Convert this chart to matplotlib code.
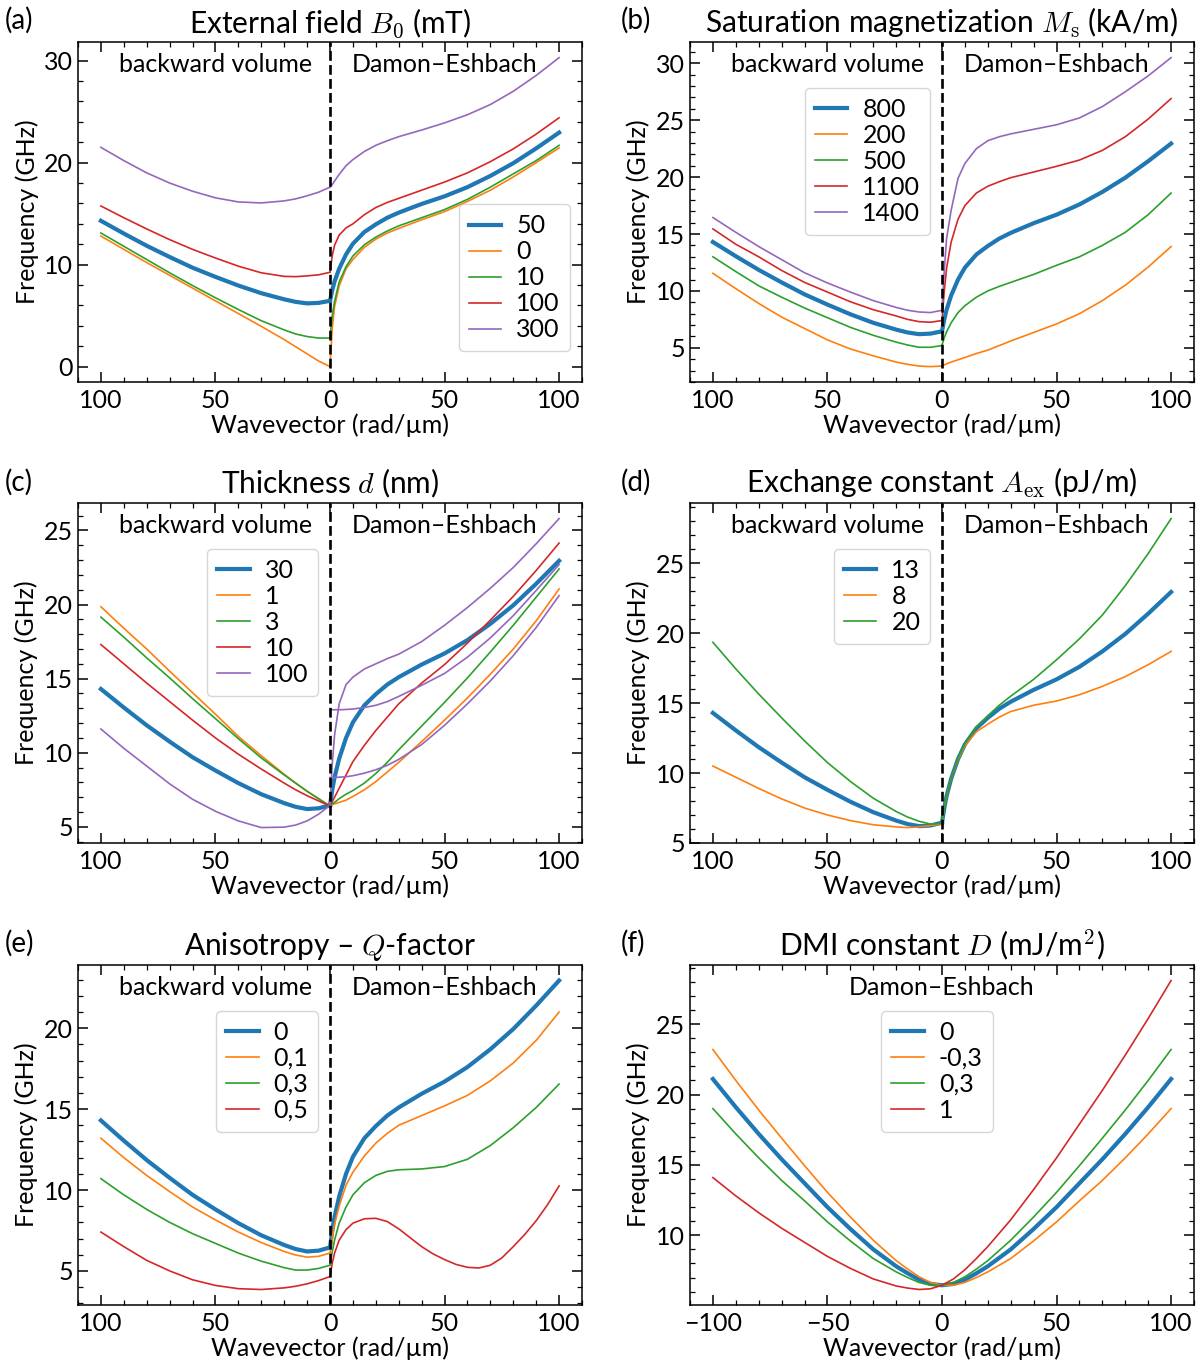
import numpy as np
import matplotlib
matplotlib.use('Agg')
import matplotlib.pyplot as plt
from matplotlib.ticker import AutoMinorLocator, FuncFormatter, MultipleLocator

plt.rcParams['font.family'] = ['Lato', 'DejaVu Sans']
plt.rcParams['mathtext.fontset'] = 'cm'
plt.rcParams['font.size'] = 18
plt.rcParams['axes.linewidth'] = 1.1
for ax_ in ('xtick', 'ytick'):
    plt.rcParams[ax_ + '.direction'] = 'in'
    plt.rcParams[ax_ + '.major.size'] = 7
    plt.rcParams[ax_ + '.minor.size'] = 3.5
    plt.rcParams[ax_ + '.major.width'] = 1.1
    plt.rcParams[ax_ + '.minor.width'] = 0.9
plt.rcParams['xtick.major.pad'] = 5
plt.rcParams['xtick.top'] = True
plt.rcParams['ytick.right'] = True

# wavevector grids (rad/um)
k_bv = [0, 5, 10, 15, 20, 30, 40, 50, 60, 70, 80, 90, 100]
k_de = [0, 1, 2, 4, 7, 10, 15, 20, 25, 30, 40, 50, 60, 70, 80, 90, 100]
k_de_fine = [0, 1, 2, 4, 7, 10, 15, 20, 25, 30, 35, 40, 45, 50, 55, 60, 65, 70, 75,
             80, 85, 90, 95, 100]
k_f = [-100, -90, -80, -70, -60, -50, -40, -30, -20, -15, -10, -5, 0,
       5, 10, 15, 20, 30, 40, 50, 60, 70, 80, 90, 100]

# reference parameter set (thick blue line)
ref_bv = [6.45, 6.25, 6.2, 6.35, 6.6, 7.2, 7.95, 8.8, 9.7, 10.75, 11.85, 13.05, 14.3]
ref_de = [6.45, 7.5, 8.35, 9.6, 11.0, 12.05, 13.2, 13.95, 14.6, 15.1, 15.95, 16.7,
          17.6, 18.7, 19.95, 21.4, 22.95]

# (a) external field B0 (mT)
a_labels = ['50', '0', '10', '100', '300']
a_bv_0 = [0.0, 0.55, 1.25, 1.95, 2.65, 3.95, 5.2, 6.45, 7.7, 8.95, 10.2, 11.5, 12.8]
a_de_0 = [0.1, 3.8, 5.9, 7.9, 9.6, 10.5, 11.7, 12.5, 13.1, 13.55, 14.4, 15.2, 16.2,
          17.3, 18.6, 20.0, 21.45]
a_bv_10 = [2.8, 2.8, 2.95, 3.2, 3.6, 4.5, 5.6, 6.75, 7.95, 9.2, 10.5, 11.8, 13.1]
a_de_10 = [2.85, 5.0, 6.4, 8.3, 9.8, 10.85, 11.95, 12.7, 13.3, 13.8, 14.6, 15.4, 16.4,
           17.6, 18.9, 20.2, 21.7]
a_bv_100 = [9.25, 9.0, 8.9, 8.82, 8.85, 9.2, 9.85, 10.65, 11.5, 12.45, 13.5, 14.6, 15.75]
a_de_100 = [9.3, 10.9, 11.9, 12.9, 13.6, 14.0, 14.9, 15.6, 16.1, 16.5, 17.3, 18.1, 19.0,
            20.1, 21.35, 22.8, 24.4]
a_bv_300 = [17.6, 17.1, 16.75, 16.45, 16.25, 16.05, 16.15, 16.55, 17.2, 18.0, 19.0, 20.2, 21.5]
a_de_300 = [17.6, 17.85, 18.2, 18.85, 19.7, 20.3, 21.1, 21.7, 22.15, 22.55, 23.2, 23.9,
            24.7, 25.7, 27.0, 28.55, 30.3]

# (b) saturation magnetization Ms (kA/m)
b_labels = ['800', '200', '500', '1100', '1400']
b_bv_200 = [3.4, 3.35, 3.4, 3.55, 3.75, 4.3, 4.9, 5.7, 6.7, 7.7, 8.9, 10.2, 11.55]
b_de_200 = [3.4, 3.5, 3.6, 3.75, 3.95, 4.15, 4.5, 4.8, 5.2, 5.6, 6.35, 7.1, 8.0, 9.15,
            10.5, 12.1, 13.9]
b_bv_500 = [5.2, 5.05, 5.05, 5.25, 5.5, 6.1, 6.8, 7.65, 8.5, 9.45, 10.45, 11.7, 13.0]
b_de_500 = [5.25, 5.9, 6.4, 7.2, 8.1, 8.7, 9.45, 10.0, 10.4, 10.75, 11.45, 12.25, 13.0,
            14.0, 15.15, 16.7, 18.6]
b_bv_1100 = [7.4, 7.25, 7.3, 7.5, 7.8, 8.35, 9.05, 9.9, 10.75, 11.8, 13.0, 14.1, 15.45]
b_de_1100 = [7.4, 10.0, 12.0, 14.3, 16.3, 17.5, 18.6, 19.2, 19.6, 19.95, 20.45, 20.95,
             21.5, 22.35, 23.55, 25.1, 26.9]
b_bv_1400 = [8.3, 8.1, 8.15, 8.3, 8.55, 9.15, 9.9, 10.7, 11.6, 12.75, 13.9, 15.15, 16.45]
b_de_1400 = [8.4, 11.8, 14.6, 17.1, 19.9, 21.2, 22.5, 23.2, 23.55, 23.8, 24.2, 24.6,
             25.2, 26.2, 27.5, 28.9, 30.5]

# (c) thickness d (nm)
c_labels = ['30', '1', '3', '10', '100']
c_bv_1 = [6.4, 6.9, 7.4, 7.95, 8.55, 9.8, 11.1, 12.6, 14.05, 15.5, 17.0, 18.4, 19.85]
c_de_1 = [6.45, 6.5, 6.55, 6.65, 6.8, 7.05, 7.5, 8.05, 8.7, 9.35, 10.75, 12.2, 13.7,
          15.3, 17.0, 18.9, 21.05]
c_bv_3 = [6.4, 6.9, 7.4, 7.95, 8.5, 9.65, 10.95, 12.3, 13.65, 15.05, 16.4, 17.8, 19.15]
c_de_3 = [6.45, 6.55, 6.65, 6.9, 7.2, 7.45, 7.95, 8.6, 9.35, 10.2, 11.8, 13.4, 15.05,
          16.8, 18.6, 20.5, 22.4]
c_bv_10 = [6.4, 6.75, 7.1, 7.5, 7.95, 8.9, 9.9, 11.0, 12.2, 13.45, 14.7, 16.0, 17.3]
c_de_10 = [6.45, 6.7, 7.0, 7.6, 8.5, 9.4, 10.5, 11.5, 12.4, 13.3, 14.7, 15.95, 17.4,
           18.95, 20.55, 22.3, 24.15]
c_bv_100 = [6.45, 5.85, 5.4, 5.12, 4.98, 4.95, 5.4, 6.05, 6.86, 7.9, 9.1, 10.3, 11.6]
c_de_100_n0 = [6.45, 9.3, 11.2, 13.3, 14.6, 15.1, 15.65, 16.0, 16.35, 16.65, 17.5, 18.6,
               19.8, 21.1, 22.5, 24.1, 25.8]
c_de_100_n1 = [12.9, 12.9, 12.9, 12.9, 12.92, 12.95, 13.05, 13.2, 13.45, 13.8, 14.55,
               15.35, 16.45, 17.75, 19.25, 20.95, 22.7]
c_de_100_n2 = [8.32, 8.32, 8.33, 8.35, 8.38, 8.45, 8.62, 8.85, 9.15, 9.55, 10.55, 11.85,
               13.3, 14.85, 16.55, 18.45, 20.6]

# (d) exchange constant Aex (pJ/m)
d_labels = ['13', '8', '20']
d_bv_8 = [6.35, 6.25, 6.15, 6.1, 6.15, 6.3, 6.6, 7.0, 7.5, 8.15, 8.9, 9.7, 10.5]
d_de_8 = [6.45, 7.5, 8.35, 9.6, 10.95, 11.95, 12.95, 13.5, 14.0, 14.4, 14.85, 15.15,
          15.6, 16.2, 16.9, 17.75, 18.7]
d_bv_20 = [6.4, 6.35, 6.55, 6.85, 7.25, 8.2, 9.4, 10.75, 12.3, 13.95, 15.65, 17.45, 19.35]
d_de_20 = [6.45, 7.5, 8.35, 9.6, 11.05, 12.1, 13.3, 14.1, 14.85, 15.5, 16.7, 18.1, 19.6,
           21.3, 23.4, 25.7, 28.2]

# (e) anisotropy Q-factor
e_labels = ['0', '0,1', '0,3', '0,5']
e_bv_01 = [6.1, 5.9, 5.85, 5.98, 6.2, 6.75, 7.4, 8.15, 8.95, 9.9, 10.9, 12.0, 13.2]
e_de_01 = [6.1, 7.0, 7.9, 9.0, 10.3, 11.1, 12.1, 12.9, 13.5, 14.0, 14.6, 15.2, 15.85,
           16.75, 17.85, 19.25, 21.0]
e_bv_03 = [5.35, 5.15, 5.05, 5.05, 5.2, 5.6, 6.1, 6.7, 7.3, 8.0, 8.8, 9.7, 10.7]
e_de_03 = [5.4, 6.2, 6.9, 7.95, 8.95, 9.7, 10.45, 10.9, 11.15, 11.25, 11.3, 11.45, 11.9,
           12.75, 13.85, 15.1, 16.55]
e_bv_05 = [4.65, 4.4, 4.2, 4.05, 3.95, 3.85, 3.9, 4.1, 4.45, 5.0, 5.65, 6.5, 7.4]
e_de_05 = [4.65, 5.5, 6.1, 6.9, 7.55, 7.95, 8.22, 8.25, 8.05, 7.6, 7.05, 6.5, 6.05,
           5.7, 5.4, 5.22, 5.18, 5.35, 5.8, 6.5, 7.25, 8.1, 9.1, 10.25]  # on k_de_fine

# (f) DMI constant D (mJ/m^2), Damon-Eshbach only
f_labels = ['0', '-0,3', '0,3', '1']
f_0 = [21.1, 19.1, 17.2, 15.4, 13.7, 12.0, 10.45, 9.0, 7.8, 7.3, 6.85, 6.55, 6.45,
       6.55, 6.85, 7.3, 7.8, 9.0, 10.45, 12.0, 13.7, 15.4, 17.2, 19.1, 21.1]
f_m03 = [23.2, 21.0, 18.9, 16.9, 14.95, 13.05, 11.3, 9.65, 8.2, 7.6, 7.05, 6.65, 6.45,
         6.45, 6.65, 7.0, 7.4, 8.35, 9.6, 10.95, 12.45, 13.9, 15.5, 17.2, 19.0]
f_03 = [19.0, 17.2, 15.5, 13.9, 12.45, 10.95, 9.6, 8.35, 7.4, 7.0, 6.65, 6.45, 6.45,
        6.65, 7.05, 7.6, 8.2, 9.65, 11.3, 13.05, 14.95, 16.9, 18.9, 21.0, 23.2]
f_1 = [14.1, 12.8, 11.6, 10.5, 9.5, 8.5, 7.65, 6.9, 6.4, 6.25, 6.15, 6.2, 6.45, 6.9,
       7.55, 8.35, 9.2, 11.1, 13.25, 15.5, 17.9, 20.3, 22.8, 25.4, 28.1]

colors = ['C0', 'C1', 'C2', 'C3', 'C4']
TITLE_FS = 21.5
LEG = dict(handlelength=1.3, handletextpad=0.6, labelspacing=0.12, borderpad=0.4,
           edgecolor='0.8', borderaxespad=0)


def style_axes(ax, title, abs_ticks=True, ystep=None):
    ax.set_title(title, fontsize=TITLE_FS, pad=7)
    ax.set_xlabel('Wavevector (rad/µm)', labelpad=1)
    ax.set_ylabel('Frequency (GHz)')
    ax.xaxis.set_major_locator(MultipleLocator(50))
    ax.xaxis.set_minor_locator(AutoMinorLocator())
    if ystep:
        ax.yaxis.set_major_locator(MultipleLocator(ystep))
    ax.yaxis.set_minor_locator(AutoMinorLocator())
    if abs_ticks:
        ax.xaxis.set_major_formatter(FuncFormatter(lambda v, p: f'{abs(v):g}'))


def split_panel(ax, labels, bv_sets, de_sets, title, legend_kw, ystep=None):
    for i, (lab, bv, de) in enumerate(zip(labels, bv_sets, de_sets)):
        lw = 3.0 if i == 0 else 1.2
        ax.plot(-np.array(k_bv), bv, color=colors[i], lw=lw, label=lab)
        de_lines = de if isinstance(de[0], list) else [de]
        for line in de_lines:
            kk = k_de if len(line) == len(k_de) else k_de_fine
            ax.plot(kk, line, color=colors[i], lw=lw)
    ax.axvline(0, color='k', ls='--', lw=1.9, zorder=3)
    tr = ax.get_xaxis_transform()
    ax.text(-50, 0.935, 'backward volume', transform=tr, ha='center', va='center')
    ax.text(50, 0.935, 'Damon–Eshbach', transform=tr, ha='center', va='center')
    ax.legend(**LEG, **legend_kw)
    style_axes(ax, title, ystep=ystep)


fig = plt.figure(figsize=(12, 13.65), dpi=100)
w, h = 0.42, 0.249
lefts = [0.065, 0.575]
bottoms = [0.7201, 0.3824, 0.044]
axs = [[fig.add_axes([l, b, w, h]) for l in lefts] for b in bottoms]

upper_left_leg = dict(loc='upper right', bbox_to_anchor=(0.477, 0.865))

split_panel(axs[0][0], a_labels,
            [ref_bv, a_bv_0, a_bv_10, a_bv_100, a_bv_300],
            [ref_de, a_de_0, a_de_10, a_de_100, a_de_300],
            r'External field $B_0$ (mT)',
            dict(loc='lower right', bbox_to_anchor=(0.976, 0.09)), ystep=10)
split_panel(axs[0][1], b_labels,
            [ref_bv, b_bv_200, b_bv_500, b_bv_1100, b_bv_1400],
            [ref_de, b_de_200, b_de_500, b_de_1100, b_de_1400],
            r'Saturation magnetization $M_\mathrm{s}$ (kA/m)', upper_left_leg)
split_panel(axs[1][0], c_labels,
            [ref_bv, c_bv_1, c_bv_3, c_bv_10, c_bv_100],
            [ref_de, c_de_1, c_de_3, c_de_10, [c_de_100_n0, c_de_100_n1, c_de_100_n2]],
            r'Thickness $d$ (nm)', upper_left_leg)
split_panel(axs[1][1], d_labels,
            [ref_bv, d_bv_8, d_bv_20],
            [ref_de, d_de_8, d_de_20],
            r'Exchange constant $A_\mathrm{ex}$ (pJ/m)', upper_left_leg)
split_panel(axs[2][0], e_labels,
            [ref_bv, e_bv_01, e_bv_03, e_bv_05],
            [ref_de, e_de_01, e_de_03, e_de_05],
            r'Anisotropy – $Q$-factor', upper_left_leg)

axf = axs[2][1]
for i, (lab, vals) in enumerate(zip(f_labels, [f_0, f_m03, f_03, f_1])):
    axf.plot(k_f, vals, color=colors[i], lw=3.0 if i == 0 else 1.2, label=lab)
axf.text(0, 0.935, 'Damon–Eshbach', transform=axf.get_xaxis_transform(),
         ha='center', va='center')
axf.legend(loc='upper center', bbox_to_anchor=(0.49, 0.865), **LEG)
style_axes(axf, r'DMI constant $D$ (mJ/m$^2$)', abs_ticks=False)

for (x, y, s) in [(0.004, 0.985, '(a)'), (0.517, 0.985, '(b)'),
                  (0.004, 0.647, '(c)'), (0.517, 0.647, '(d)'),
                  (0.004, 0.309, '(e)'), (0.517, 0.309, '(f)')]:
    fig.text(x, y, s, fontsize=20, va='center', ha='left')

fig.savefig('out.png', dpi=100)
